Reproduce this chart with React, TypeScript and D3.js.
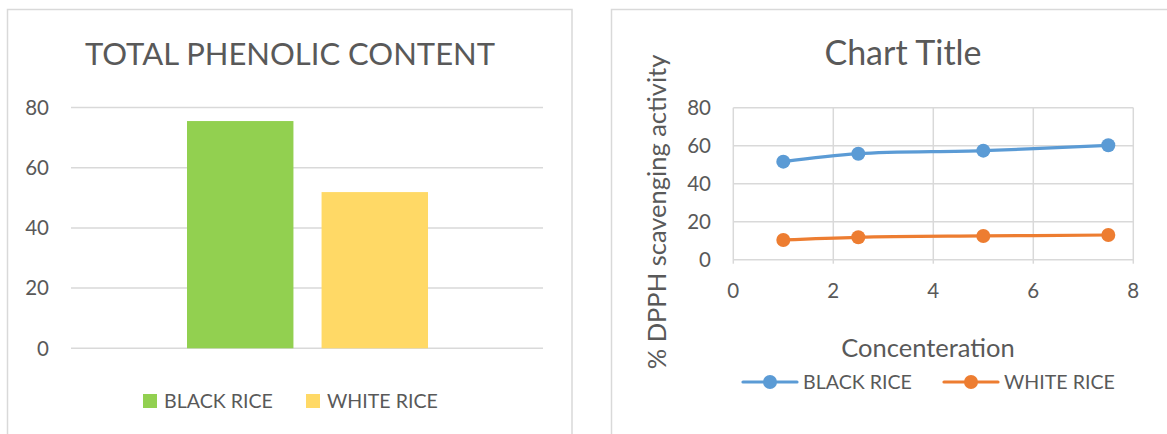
import React from "react";
import * as d3 from "d3";

const barCategories = ["BLACK RICE", "WHITE RICE"];
const barValues = [75.5, 51.9];
const barColors = ["#92d050", "#ffd966"];
const barTicks = [0, 20, 40, 60, 80];

const concentrations = [1, 2.5, 5, 7.5];
const blackRice = [51.6, 55.8, 57.4, 60.2];
const whiteRice = [10.4, 11.8, 12.5, 13.0];
const lineSeriesNames = ["BLACK RICE", "WHITE RICE"];
const lineColors = ["#5b9bd5", "#ed7d31"];
const lineXTicks = [0, 2, 4, 6, 8];
const lineYTicks = [0, 20, 40, 60, 80];

const FONT = "Lato, 'Open Sans', sans-serif";
const TXT = "#595959";
const GRID = "#d9d9d9";

export default function App() {
  // left chart scales
  const ly = d3.scaleLinear().domain([0, 80]).range([348.3, 107.5]);
  const lx = d3.scaleBand<string>().domain(barCategories).range([187, 428]).paddingInner(0.209);

  // right chart scales
  const rx = d3.scaleLinear().domain([0, 8]).range([733.3, 1133.3]);
  const ry = d3.scaleLinear().domain([0, 80]).range([259.7, 107.7]);
  const lineGen = d3
    .line<[number, number]>()
    .x((d) => rx(d[0]))
    .y((d) => ry(d[1]))
    .curve(d3.curveCatmullRom.alpha(0.5));
  const series = [blackRice, whiteRice].map((vals) =>
    concentrations.map((c, i) => [c, vals[i]] as [number, number])
  );

  const legendLeft = [
    { sq: 143, tx: 164 },
    { sq: 306, tx: 327 },
  ];
  const legendRight = [
    { x0: 743, x1: 797, m: 770, tx: 803 },
    { x0: 944, x1: 998, m: 971, tx: 1004 },
  ];

  return (
    <svg
      width={1167}
      height={434}
      style={{ position: "absolute", left: 0, top: 0, background: "#fff" }}
      fontFamily={FONT}
    >
      {/* Left chart frame */}
      <rect x={7.5} y={9.5} width={564.5} height={440} fill="#fff" stroke={GRID} strokeWidth={1.5} />
      <text x={290} y={65} textAnchor="middle" fontSize={31} fill={TXT}>
        TOTAL PHENOLIC CONTENT
      </text>
      {barTicks.map((t) => (
        <g key={"lt" + t}>
          <line x1={71} x2={543} y1={ly(t)} y2={ly(t)} stroke={GRID} strokeWidth={1.5} />
          <text x={49} y={ly(t)} dy="0.36em" textAnchor="end" fontSize={20.5} fill={TXT}>
            {t}
          </text>
        </g>
      ))}
      {barCategories.map((c, i) => (
        <rect
          key={c}
          x={lx(c)}
          y={ly(barValues[i])}
          width={lx.bandwidth()}
          height={ly(0) - ly(barValues[i])}
          fill={barColors[i]}
        />
      ))}
      {barCategories.map((c, i) => (
        <g key={"ll" + c}>
          <rect x={legendLeft[i].sq} y={394} width={14} height={14} fill={barColors[i]} />
          <text x={legendLeft[i].tx} y={401} dy="0.36em" fontSize={19.6} fill={TXT}>
            {c}
          </text>
        </g>
      ))}

      {/* Right chart frame */}
      <rect x={611.5} y={9.5} width={570} height={440} fill="#fff" stroke={GRID} strokeWidth={1.5} />
      <text x={903} y={65} textAnchor="middle" fontSize={34} fill={TXT}>
        Chart Title
      </text>
      {lineYTicks.map((t) => (
        <g key={"ry" + t}>
          <line x1={rx(0)} x2={rx(8)} y1={ry(t)} y2={ry(t)} stroke={GRID} strokeWidth={1.5} />
          <text x={711} y={ry(t)} dy="0.36em" textAnchor="end" fontSize={20.5} fill={TXT}>
            {t}
          </text>
        </g>
      ))}
      {lineXTicks.map((t) => (
        <g key={"rx" + t}>
          <line x1={rx(t)} x2={rx(t)} y1={ry(80)} y2={ry(0) + 4} stroke={GRID} strokeWidth={1.5} />
          <text x={rx(t)} y={291} dy="0.36em" textAnchor="middle" fontSize={20.5} fill={TXT}>
            {t}
          </text>
        </g>
      ))}
      <text
        transform={`translate(657,212) rotate(-90)`}
        textAnchor="middle"
        dy="0.36em"
        fontSize={25.5}
        fill={TXT}
      >
        % DPPH scavenging activity
      </text>
      <text x={928} y={348} dy="0.36em" textAnchor="middle" fontSize={25.5} fill={TXT}>
        Concenteration
      </text>
      {series.map((s, i) => (
        <g key={"s" + i}>
          <path d={lineGen(s) || ""} fill="none" stroke={lineColors[i]} strokeWidth={3.2} strokeLinecap="round" />
          {s.map((d, j) => (
            <circle key={j} cx={rx(d[0])} cy={ry(d[1])} r={7} fill={lineColors[i]} />
          ))}
        </g>
      ))}
      {lineSeriesNames.map((n, i) => (
        <g key={"rl" + n}>
          <line x1={legendRight[i].x0} x2={legendRight[i].x1} y1={382} y2={382} stroke={lineColors[i]} strokeWidth={3.2} strokeLinecap="round" />
          <circle cx={legendRight[i].m} cy={382} r={7} fill={lineColors[i]} />
          <text x={legendRight[i].tx} y={382} dy="0.36em" fontSize={19.6} fill={TXT}>
            {n}
          </text>
        </g>
      ))}
    </svg>
  );
}
